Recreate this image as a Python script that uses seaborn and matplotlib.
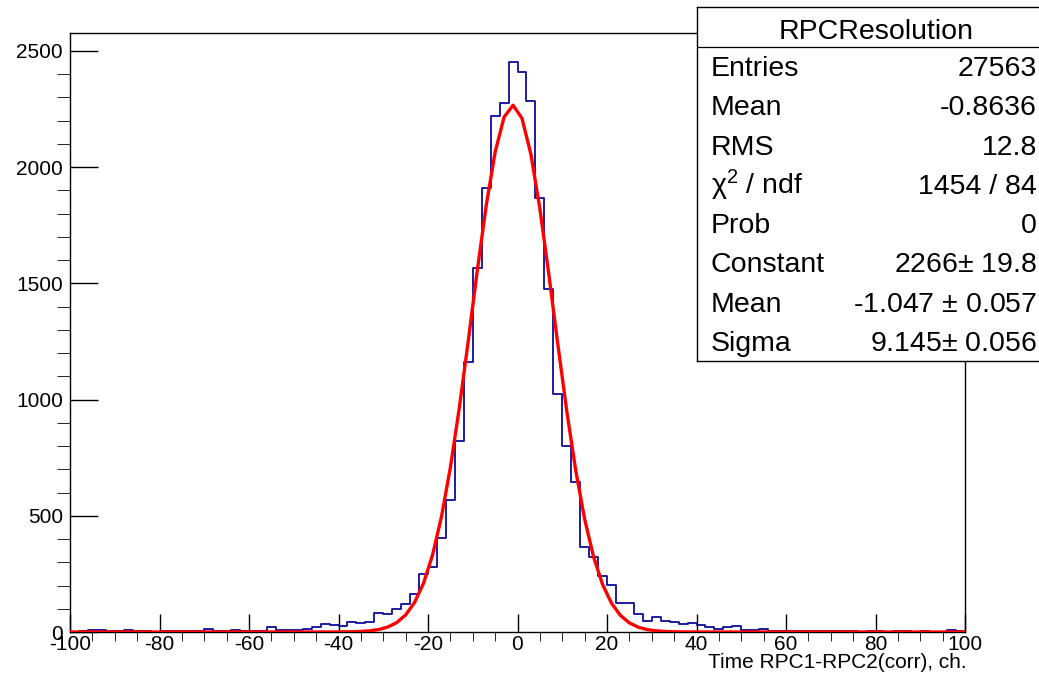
"""
RPC time resolution histogram with gaussian fit (ROOT style look).
"""

import numpy as np
import pandas as pd
import seaborn as sns
import matplotlib.pyplot as plt
from matplotlib.ticker import MultipleLocator

# ----------------------------------------------- DATA ----------------------------------------------- #

bin_edges = np.arange(-100, 101, 2)

# counts per 2-ch bin, left edge -100 ... 98
counts_left_tail = [2, 3, 8, 10, 4, 3, 10, 5, 3, 2, 3, 3, 5, 6, 6, 13, 5, 4, 10, 6,
                    5, 5, 22, 10, 8, 7, 12]
counts_core = [22, 36, 30, 27, 44, 40, 43, 83, 76, 97, 122, 163, 249, 279, 403, 569,
               822, 1162, 1564, 1912, 2218, 2275, 2454, 2411, 2286, 1866, 1477, 1023,
               801, 647, 365, 322, 240, 202, 123, 126, 78]
counts_right_tail = [46, 65, 49, 42, 34, 37, 32, 20, 11, 20, 24, 9, 9, 13, 6, 4, 3, 3,
                     5, 4, 3, 6, 6, 3, 2, 4, 3, 2, 4, 3, 2, 3, 2, 2, 9, 3]

# gaussian fit parameters as printed in the stats box
fit_constant = 2266
fit_mean = -1.047
fit_sigma = 9.145

stats_labels = ['Entries', 'Mean', 'RMS', r'$\mathregular{\chi^{2}}$ / ndf', 'Prob',
                'Constant', 'Mean', 'Sigma']
stats_values = ['27563', '-0.8636', '12.8', '1454 / 84', '0',
                '2266$\\pm$ 19.8', '-1.047 $\\pm$ 0.057', '9.145$\\pm$ 0.056']

# ----------------------------------------------- PLOT ----------------------------------------------- #

counts = np.array(counts_left_tail + counts_core + counts_right_tail)
centers = 0.5 * (bin_edges[:-1] + bin_edges[1:])
df = pd.DataFrame({'t': centers, 'n': counts})

x_fit = np.concatenate([[bin_edges[0]], centers, [bin_edges[-1]]])
y_fit = fit_constant * np.exp(-0.5 * ((x_fit - fit_mean) / fit_sigma) ** 2)

sns.set_style('ticks')
plt.rcParams['font.family'] = ['Liberation Sans', 'DejaVu Sans']
plt.rcParams['mathtext.fontset'] = 'custom'
plt.rcParams['mathtext.rm'] = 'Liberation Sans'
plt.rcParams['axes.unicode_minus'] = False
plt.rcParams['text.color'] = 'black'
plt.rcParams['xtick.color'] = 'black'
plt.rcParams['ytick.color'] = 'black'

W, H = 1039, 684
fig = plt.figure(figsize=(W / 100, H / 100), dpi=100)
ax = fig.add_axes([70 / W, 1 - 632 / H, (965 - 70) / W, (632 - 33) / H])

sns.histplot(data=df, x='t', weights='n', binwidth=2, binrange=(-100, 100),
             element='step', fill=False, color='#0b0b99', linewidth=1.3, ax=ax)
sns.lineplot(x=x_fit, y=y_fit, color='#ff0000', linewidth=2.4, ax=ax, zorder=5)

ax.set_xlim(-100, 100)
ax.set_ylim(0, 1.05 * counts.max())
ax.set_ylabel('')
ax.set_xlabel('')

ax.xaxis.set_major_locator(MultipleLocator(20))
ax.xaxis.set_minor_locator(MultipleLocator(5))
ax.yaxis.set_major_locator(MultipleLocator(500))
ax.yaxis.set_minor_locator(MultipleLocator(100))
ax.tick_params(direction='in', top=False, right=False, labelsize=15, color='black',
               labelcolor='black', width=1)
ax.tick_params(axis='y', which='major', length=20, pad=5)
ax.tick_params(axis='y', which='minor', length=9.5)
ax.tick_params(axis='x', which='major', length=13, pad=2)
ax.tick_params(axis='x', which='minor', length=6.5)
for s in ax.spines.values():
    s.set_visible(True)
    s.set_color('black')
    s.set_linewidth(1.0)

fig.text(967 / W, 1 - 668 / H, 'Time RPC1-RPC2(corr), ch.', ha='right', va='baseline', fontsize=15)

# stats box
bx0, by0, bx1, by1 = 696.7, 7.3, 1056.0, 361.0
sax = fig.add_axes([bx0 / W, 1 - by1 / H, (bx1 - bx0) / W, (by1 - by0) / H])
sax.set_xlim(0, 1)
sax.set_ylim(0, 1)
sax.set_xticks([])
sax.set_yticks([])
sax.set_facecolor('white')
for s in sax.spines.values():
    s.set_color('black')
    s.set_linewidth(1.0)

bh = by1 - by0
sep = 46.7
row_h = (by1 - sep) / 8
sax.axhline(1 - (sep - by0) / bh, color='black', linewidth=0.9)
sax.text(0.5, 1 - (39.3 - by0) / bh, 'RPCResolution', ha='center', va='baseline', fontsize=20.5)
for i, (lab, val) in enumerate(zip(stats_labels, stats_values)):
    yb = 1 - (sep + row_h * i + 29.3 - by0) / bh
    sax.text((711 - bx0) / (bx1 - bx0), yb, lab, ha='left', va='baseline', fontsize=20.5)
    sax.text((1037 - bx0) / (bx1 - bx0), yb, val, ha='right', va='baseline', fontsize=20.5)

fig.savefig('out.png', dpi=100)
